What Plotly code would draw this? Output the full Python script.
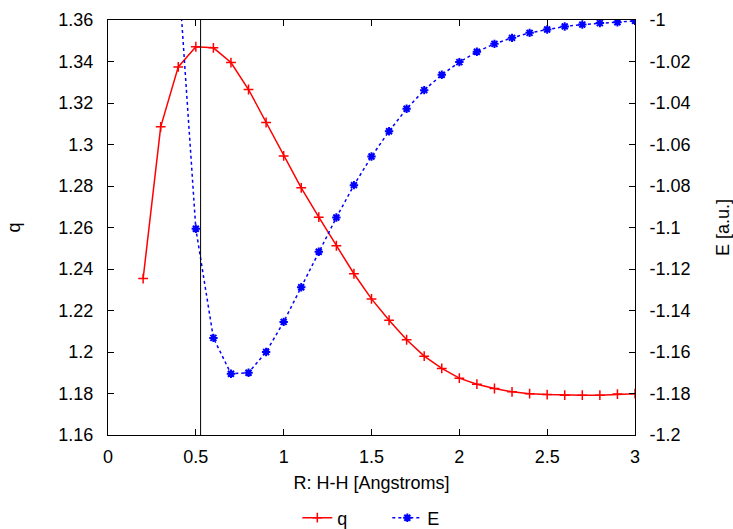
import plotly.graph_objects as go

# ---- data ----
R_q = [0.2, 0.3, 0.4, 0.5, 0.6, 0.7, 0.8, 0.9, 1.0, 1.1, 1.2, 1.3, 1.4, 1.5, 1.6,
       1.7, 1.8, 1.9, 2.0, 2.1, 2.2, 2.3, 2.4, 2.5, 2.6, 2.7, 2.8, 2.9, 3.0]
q_vals = [1.2354, 1.3085, 1.3374, 1.3471, 1.3466, 1.3395, 1.3265, 1.3106, 1.2945,
          1.2791, 1.2650, 1.2512, 1.2377, 1.2256, 1.2153, 1.2059, 1.1980, 1.1921,
          1.1874, 1.1845, 1.1824, 1.1808, 1.1799, 1.1795, 1.1792, 1.1792, 1.1792,
          1.1797, 1.1799]

R_E = [0.4, 0.5, 0.6, 0.7, 0.8, 0.9, 1.0, 1.1, 1.2, 1.3, 1.4, 1.5, 1.6, 1.7, 1.8,
       1.9, 2.0, 2.1, 2.2, 2.3, 2.4, 2.5, 2.6, 2.7, 2.8, 2.9, 3.0]
E_vals = [-0.976, -1.1006, -1.1532, -1.1705, -1.1700, -1.1600, -1.1455, -1.1288,
          -1.1117, -1.0952, -1.0796, -1.0658, -1.0536, -1.0428, -1.0338, -1.0264,
          -1.0203, -1.0153, -1.0115, -1.0086, -1.0062, -1.0046, -1.0031, -1.0022,
          -1.0015, -1.0011, -1.0004]

R_eq = 0.527  # vertical reference line

x_ticks = [0, 0.5, 1, 1.5, 2, 2.5, 3]
x_labels = ["0", "0.5", "1", "1.5", "2", "2.5", "3"]
q_ticks = [1.16, 1.18, 1.20, 1.22, 1.24, 1.26, 1.28, 1.30, 1.32, 1.34, 1.36]
q_labels = ["1.16", "1.18", "1.2", "1.22", "1.24", "1.26", "1.28", "1.3", "1.32", "1.34", "1.36"]
E_ticks = [-1.2, -1.18, -1.16, -1.14, -1.12, -1.1, -1.08, -1.06, -1.04, -1.02, -1.0]
E_labels = ["-1.2", "-1.18", "-1.16", "-1.14", "-1.12", "-1.1", "-1.08", "-1.06", "-1.04", "-1.02", "-1"]

FONT = "Liberation Sans, Arial, sans-serif"
FS = 18

fig = go.Figure()
fig.add_trace(go.Scatter(
    x=R_q, y=q_vals, name="q", mode="lines+markers",
    line=dict(color="#ff0000", width=1.5),
    marker=dict(symbol="cross-thin", size=7, color="#ff0000",
                line=dict(color="#ff0000", width=1.5)),
    yaxis="y", cliponaxis=True,
))
fig.add_trace(go.Scatter(
    x=R_E, y=E_vals, name="E", mode="lines+markers",
    line=dict(color="#0000ff", width=1.5, dash="dot"),
    marker=dict(symbol="asterisk", size=7, color="#0000ff",
                line=dict(color="#0000ff", width=2)),
    yaxis="y2", cliponaxis=True,
))

fig.add_shape(type="line", xref="x", yref="paper", x0=R_eq, x1=R_eq, y0=0, y1=1,
              line=dict(color="black", width=1))

axis_common = dict(
    showgrid=False, zeroline=False, showline=True, linecolor="black", linewidth=1,
    ticks="inside", ticklen=6, tickcolor="black", tickwidth=1,
    tickfont=dict(family=FONT, size=FS, color="black"),
)

fig.update_layout(
    width=733, height=529,
    margin=dict(l=108, r=98, t=20, b=94, autoexpand=False),
    paper_bgcolor="white", plot_bgcolor="white",
    font=dict(family=FONT, size=FS, color="black"),
    xaxis=dict(range=[0, 3], tickvals=x_ticks, ticktext=x_labels, mirror="ticks",
               ticklabelstandoff=5,
               title=dict(text="R: H-H [Angstroms]", standoff=10,
                          font=dict(family=FONT, size=FS)),
               **axis_common),
    yaxis=dict(range=[1.16, 1.36], tickvals=q_ticks, ticktext=q_labels,
               ticklabelstandoff=10,
               title=dict(text="q", standoff=33, font=dict(family=FONT, size=FS)),
               **axis_common),
    yaxis2=dict(range=[-1.2, -1.0], tickvals=E_ticks, ticktext=E_labels,
                overlaying="y", side="right", ticklabelstandoff=10,
                title=dict(text="E [a.u.]", standoff=26, font=dict(family=FONT, size=FS)),
                **axis_common),
    showlegend=True,
    legend=dict(orientation="h", x=0.53, xanchor="center", y=-0.2, yanchor="middle",
                font=dict(family=FONT, size=FS), bgcolor="rgba(0,0,0,0)",
                borderwidth=0, tracegroupgap=0,
                entrywidth=45, entrywidthmode="pixels"),
)

fig.write_html("out.html")
